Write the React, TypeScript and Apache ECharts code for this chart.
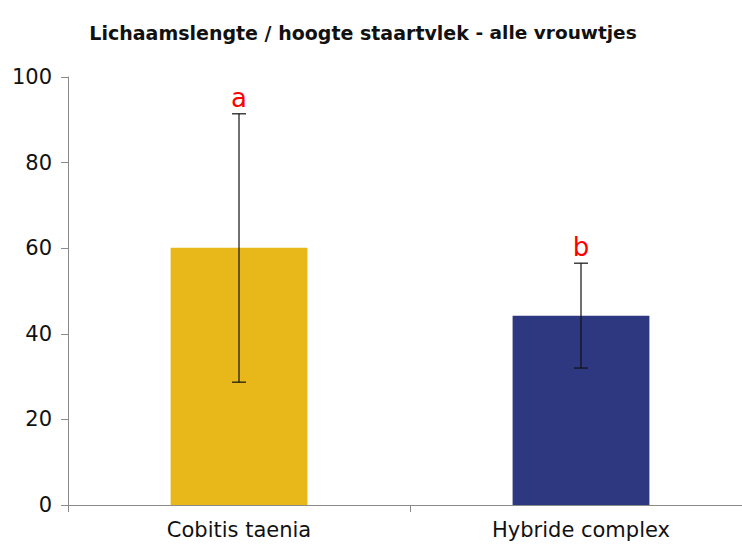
import React, { useEffect, useRef } from "react";
import * as echarts from "echarts";

const categories = ["Cobitis taenia", "Hybride complex"];
const means = [60.1, 44.2];
const errLow = [28.7, 32.0];
const errHigh = [91.4, 56.5];
const groupLetters = ["a", "b"];
const barColors = ["#E8B81A", "#2E3880"];
const yTicks = { min: 0, max: 100, interval: 20 };

export default function App() {
  const ref = useRef<HTMLDivElement>(null);
  useEffect(() => {
    if (!ref.current) return;
    const chart = echarts.init(ref.current, undefined, { renderer: "svg" });
    const font = "DejaVu Sans";
    chart.setOption({
      animation: false,
      backgroundColor: "#fff",
      title: {
        text: "{a|Lichaamslengte / hoogte staartvlek }{b|- alle vrouwtjes}",
        left: 358,
        textAlign: "center",
        top: 18,
        textStyle: {
          rich: {
            a: { fontFamily: font, fontWeight: "bold", fontSize: 19, color: "#111" },
            b: { fontFamily: font, fontWeight: "bold", fontSize: 18.5, color: "#111" },
          },
        },
      },
      grid: { left: 68, right: 0, top: 77, bottom: 41, containLabel: false },
      xAxis: {
        type: "category",
        data: categories,
        axisLine: { lineStyle: { color: "#8a8a8a", width: 1 } },
        axisTick: { show: true, length: 7, alignWithLabel: false, lineStyle: { color: "#8a8a8a" } },
        axisLabel: { fontFamily: font, fontSize: 21, color: "#111", margin: 14 },
      },
      yAxis: {
        type: "value",
        min: yTicks.min,
        max: yTicks.max,
        interval: yTicks.interval,
        splitLine: { show: false },
        axisLine: { show: true, lineStyle: { color: "#8a8a8a", width: 1 } },
        axisTick: { show: true, length: 7, lineStyle: { color: "#8a8a8a" } },
        axisLabel: { fontFamily: font, fontSize: 21, color: "#111", margin: 16 },
      },
      series: [
        {
          type: "bar",
          barWidth: "40%",
          data: means.map((v, i) => ({ value: v, itemStyle: { color: barColors[i] } })),
          z: 2,
        },
        {
          type: "custom",
          z: 3,
          data: categories.map((_, i) => [i, errLow[i], errHigh[i]]),
          renderItem: (params: any, api: any) => {
            const idx = api.value(0);
            const lo = api.coord([idx, api.value(1)]);
            const hi = api.coord([idx, api.value(2)]);
            const cap = 7;
            const style = { stroke: "#111", lineWidth: 1.2 };
            return {
              type: "group",
              children: [
                { type: "line", shape: { x1: hi[0], y1: hi[1], x2: lo[0], y2: lo[1] }, style },
                { type: "line", shape: { x1: hi[0] - cap, y1: hi[1], x2: hi[0] + cap, y2: hi[1] }, style },
                { type: "line", shape: { x1: lo[0] - cap, y1: lo[1], x2: lo[0] + cap, y2: lo[1] }, style },
                {
                  type: "text",
                  x: hi[0],
                  y: hi[1] - 3,
                  style: {
                    text: groupLetters[idx],
                    fill: "#FF0000",
                    fontFamily: font,
                    fontSize: 26,
                    align: "center",
                    verticalAlign: "bottom",
                  },
                },
              ],
            };
          },
        },
      ],
    });
    return () => chart.dispose();
  }, []);
  return (
    <div style={{ position: "absolute", left: 0, top: 0, width: 742, height: 546, overflow: "hidden", background: "#fff" }}>
      <div ref={ref} style={{ width: 752, height: 546 }} />
    </div>
  );
}
